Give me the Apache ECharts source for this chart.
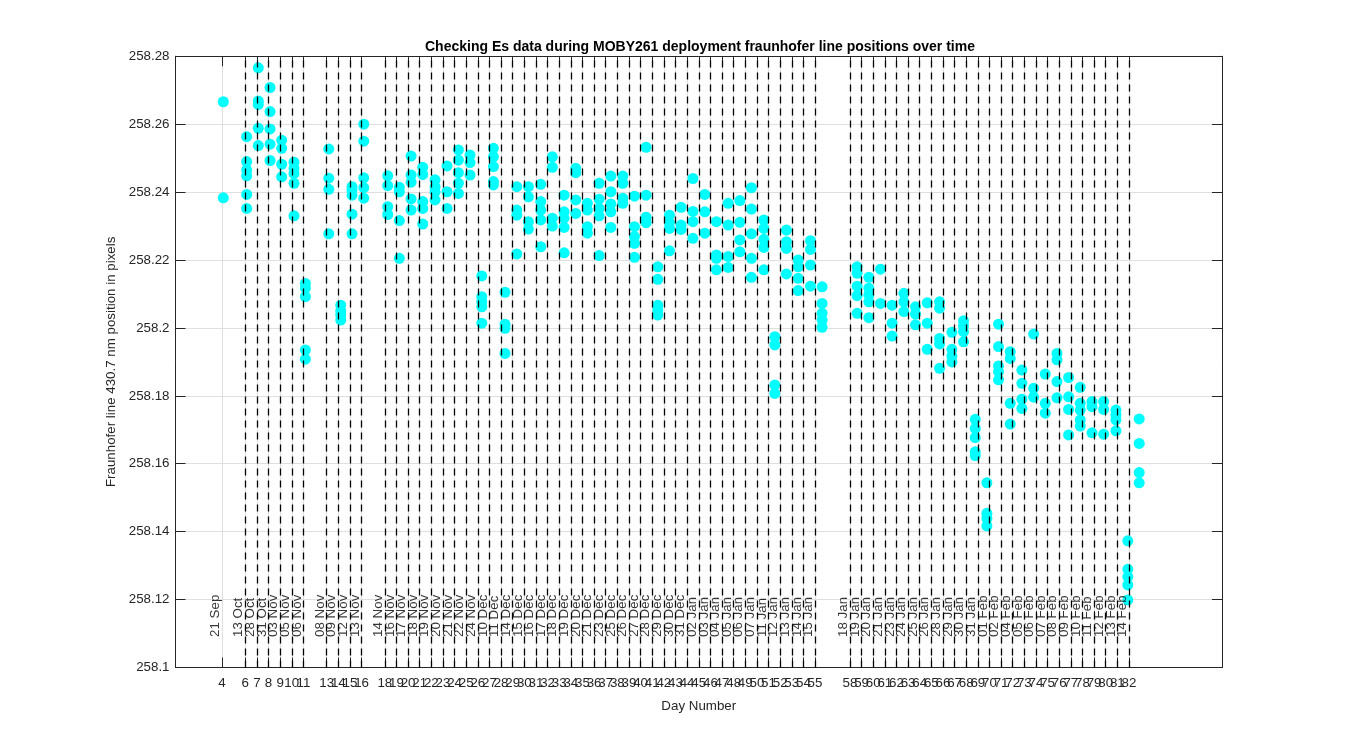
<!DOCTYPE html>
<html>
<head>
<meta charset="utf-8">
<script src="https://cdn.jsdelivr.net/npm/echarts@6/dist/echarts.min.js"></script>
<style>
html,body{margin:0;padding:0;background:#fff;}
#chart{width:1350px;height:750px;}
</style>
</head>
<body>
<div id="chart"></div>
<script>
// ---- data ----
const tickDays = [4, 6, 7, 8, 9, 10, 11, 13, 14, 15, 16,
  18, 19, 20, 21, 22, 23, 24, 25, 26, 27, 28, 29, 30, 31, 32, 33, 34, 35, 36, 37,
  38, 39, 40, 41, 42, 43, 44, 45, 46, 47, 48, 49, 50, 51, 52, 53, 54, 55,
  58, 59, 60, 61, 62, 63, 64, 65, 66, 67, 68, 69, 70, 71, 72, 73, 74, 75, 76,
  77, 78, 79, 80, 81, 82];

const dateLabels = ['21 Sep', '13 Oct', '28 Oct', '31 Oct', '03 Nov', '05 Nov', '06 Nov',
  '08 Nov', '09 Nov', '12 Nov', '13 Nov',
  '14 Nov', '16 Nov', '17 Nov', '18 Nov', '19 Nov', '20 Nov', '21 Nov', '22 Nov', '24 Nov',
  '10 Dec', '11 Dec', '14 Dec', '15 Dec', '16 Dec', '17 Dec', '18 Dec', '19 Dec', '20 Dec',
  '21 Dec', '23 Dec', '25 Dec', '26 Dec', '27 Dec', '28 Dec', '29 Dec', '30 Dec', '31 Dec',
  '02 Jan', '03 Jan', '04 Jan', '05 Jan', '06 Jan', '07 Jan', '11 Jan', '12 Jan', '13 Jan',
  '14 Jan', '15 Jan',
  '18 Jan', '19 Jan', '20 Jan', '21 Jan', '23 Jan', '24 Jan', '25 Jan', '26 Jan', '28 Jan',
  '29 Jan', '30 Jan', '31 Jan', '01 Feb', '02 Feb', '04 Feb', '05 Feb', '06 Feb', '07 Feb',
  '08 Feb', '09 Feb', '10 Feb', '11 Feb', '12 Feb', '13 Feb', '14 Feb'];

// days that carry a dashed marker line (all labelled days except the first)
const dashedDays = [6, 7, 8, 9, 10, 11, 13, 14, 15, 16,
  18, 19, 20, 21, 22, 23, 24, 25, 26, 27, 28, 29, 30, 31, 32, 33, 34, 35, 36, 37,
  38, 39, 40, 41, 42, 43, 44, 45, 46, 47, 48, 49, 50, 51, 52, 53, 54, 55,
  58, 59, 60, 61, 62, 63, 64, 65, 66, 67, 68, 69, 70, 71, 72, 73, 74, 75, 76,
  77, 78, 79, 80, 81, 82];

const colDays = [4.11, 6.12, 7.12, 8.13, 9.13, 10.19, 11.17, 13.18, 14.21, 15.18, 16.19,
  18.25, 19.25, 20.26, 21.26, 22.32, 23.35, 24.33, 25.33, 26.34, 27.34, 28.34, 29.35,
  30.35, 31.41, 32.41, 33.42, 34.42, 35.42, 36.43, 37.44, 38.47, 39.47, 40.47, 41.48,
  42.48, 43.48, 44.5, 45.52, 46.52, 47.53, 48.53, 49.53, 50.6, 51.54, 52.54, 53.55,
  54.61, 55.61, 58.62, 59.63, 60.63, 61.63, 62.64, 63.64, 64.65, 65.71, 66.77, 67.77,
  68.78, 69.78, 70.78, 71.79, 72.79, 73.8, 74.8, 75.81, 76.81, 77.81, 78.82, 79.82,
  80.88, 81.9, 82.88];

const colValues = [
  [258.2666, 258.2383],
  [258.2563, 258.2490, 258.2465, 258.2448, 258.2393, 258.2352],
  [258.2766, 258.2668, 258.2658, 258.2588, 258.2537],
  [258.2708, 258.2637, 258.2586, 258.2541, 258.2493],
  [258.2553, 258.2529, 258.2482, 258.2445],
  [258.2488, 258.2470, 258.2455, 258.2426, 258.2330],
  [258.2131, 258.2117, 258.2092, 258.1935, 258.1908],
  [258.2527, 258.2441, 258.2408, 258.2277],
  [258.2067, 258.2050, 258.2038, 258.2023],
  [258.2416, 258.2406, 258.2391, 258.2335, 258.2277],
  [258.2600, 258.2550, 258.2442, 258.2413, 258.2382],
  [258.2448, 258.2419, 258.2357, 258.2334],
  [258.2414, 258.2401, 258.2316, 258.2205],
  [258.2506, 258.2450, 258.2429, 258.2380, 258.2347],
  [258.2473, 258.2452, 258.2372, 258.2352, 258.2306],
  [258.2436, 258.2416, 258.2401, 258.2377],
  [258.2477, 258.2401, 258.2352],
  [258.2524, 258.2494, 258.2457, 258.2426, 258.2396],
  [258.2509, 258.2487, 258.2450],
  [258.2153, 258.2092, 258.2077, 258.2062, 258.2014],
  [258.2529, 258.2504, 258.2475, 258.2431, 258.2421],
  [258.2105, 258.2011, 258.1999, 258.1925],
  [258.2416, 258.2347, 258.2332, 258.2218],
  [258.2416, 258.2386, 258.2313, 258.2291],
  [258.2423, 258.2372, 258.2347, 258.2318, 258.2239],
  [258.2504, 258.2473, 258.2323, 258.2300],
  [258.2391, 258.2342, 258.2323, 258.2296, 258.2221],
  [258.2470, 258.2457, 258.2377, 258.2337],
  [258.2367, 258.2347, 258.2298, 258.2279],
  [258.2426, 258.2379, 258.2352, 258.2330, 258.2213],
  [258.2447, 258.2401, 258.2365, 258.2342, 258.2296],
  [258.2447, 258.2426, 258.2382, 258.2367],
  [258.2388, 258.2298, 258.2269, 258.2249, 258.2208],
  [258.2532, 258.2391, 258.2326, 258.2310],
  [258.2180, 258.2143, 258.2067, 258.2053, 258.2038],
  [258.2332, 258.2310, 258.2293, 258.2227],
  [258.2355, 258.2303, 258.2290],
  [258.2440, 258.2343, 258.2313, 258.2264],
  [258.2393, 258.2342, 258.2279],
  [258.2313, 258.2215, 258.2205, 258.2171],
  [258.2367, 258.2303, 258.2210, 258.2178],
  [258.2375, 258.2311, 258.2259, 258.2224],
  [258.2413, 258.2350, 258.2277, 258.2205, 258.2149],
  [258.2318, 258.2293, 258.2261, 258.2237, 258.2171],
  [258.1974, 258.1950, 258.1832, 258.1807],
  [258.2288, 258.2254, 258.2234, 258.2159],
  [258.2200, 258.2180, 258.2146, 258.2110],
  [258.2257, 258.2231, 258.2185, 258.2123],
  [258.2121, 258.2072, 258.2043, 258.2023, 258.2002],
  [258.2180, 258.2161, 258.2123, 258.2095, 258.2043],
  [258.2149, 258.2117, 258.2097, 258.2077, 258.2030],
  [258.2173, 258.2072],
  [258.2067, 258.2014, 258.1976],
  [258.2102, 258.2077, 258.2048],
  [258.2062, 258.2041, 258.2009],
  [258.2074, 258.2014, 258.1937],
  [258.2077, 258.2058, 258.1969, 258.1953, 258.1881],
  [258.1987, 258.1937, 258.1917, 258.1900],
  [258.2021, 258.2006, 258.1989, 258.1959],
  [258.1731, 258.1704, 258.1677, 258.1635, 258.1624],
  [258.1544, 258.1454, 258.1439, 258.1417],
  [258.2011, 258.1945, 258.1888, 258.1871, 258.1847],
  [258.1930, 258.1910, 258.1778, 258.1717],
  [258.1876, 258.1837, 258.1790, 258.1763],
  [258.1982, 258.1822, 258.1796],
  [258.1864, 258.1778, 258.1749],
  [258.1925, 258.1906, 258.1842, 258.1794],
  [258.1854, 258.1797, 258.1760, 258.1685],
  [258.1825, 258.1778, 258.1758, 258.1729, 258.1711],
  [258.1783, 258.1768, 258.1691],
  [258.1783, 258.1760, 258.1687],
  [258.1758, 258.1744, 258.1729, 258.1697],
  [258.1373, 258.1289, 258.1267, 258.1243, 258.1199],
  [258.1732, 258.1660, 258.1574, 258.1544]
];

const labelY = 258.109; // vertical anchor of the date texts (data units)

// ---- build the chart ----
const FONT = "'Liberation Sans', Arial, Helvetica, sans-serif";
const TXT = '#262626';

const points = [];
colDays.forEach((d, i) => colValues[i].forEach(v => points.push([d, v])));

const labelData = tickDays.map((d, i) => ({ value: [d, labelY], name: dateLabels[i] }));

// tick labels are split over two overlaid axes so ECharts keeps every one
// (the original draws all of them, even where they collide)
const tickLabelsA = tickDays.filter((d, i) => i % 2 === 0);
const tickLabelsB = tickDays.filter((d, i) => i % 2 === 1);

const labelStyle = { fontFamily: FONT, fontSize: 13.33, color: TXT };

const chart = echarts.init(document.getElementById('chart'), null, { renderer: 'canvas' });

const option = {
  animation: false,
  backgroundColor: '#ffffff',
  title: {
    text: 'Checking Es data during MOBY261 deployment fraunhofer line positions over time',
    left: 695, top: 35, textAlign: 'center',
    textStyle: { fontFamily: FONT, fontSize: 14, fontWeight: 'bold', color: '#000' }
  },
  grid: { left: 175.5, right: 128, top: 56.25, bottom: 82.5, containLabel: false },
  xAxis: [
    {
      type: 'value', min: 0, max: 90, position: 'bottom',
      name: 'Day Number', nameLocation: 'middle', nameGap: 32,
      nameTextStyle: { fontFamily: FONT, fontSize: 13.33, color: TXT },
      axisLine: { show: true, onZero: false, lineStyle: { color: TXT, width: 1 } },
      axisTick: { show: true, inside: true, length: 10, customValues: tickDays, lineStyle: { color: TXT, width: 1 } },
      axisLabel: Object.assign({ show: true, customValues: tickLabelsA, hideOverlap: false, margin: 9,
        showMinLabel: true, showMaxLabel: true, formatter: v => String(v) }, labelStyle),
      splitLine: { show: true, lineStyle: { color: '#dfdfdf', width: 1 } }
    },
    {
      type: 'value', min: 0, max: 90, position: 'top',
      axisLine: { show: true, onZero: false, lineStyle: { color: TXT, width: 1 } },
      axisTick: { show: true, inside: true, length: 10, customValues: tickDays, lineStyle: { color: TXT, width: 1 } },
      axisLabel: { show: false },
      splitLine: { show: false }
    },
    {
      type: 'value', min: 0, max: 90, position: 'bottom',
      axisLine: { show: false, onZero: false },
      axisTick: { show: false },
      axisLabel: Object.assign({ show: true, customValues: tickLabelsB, hideOverlap: false, margin: 9,
        showMinLabel: true, showMaxLabel: true, formatter: v => String(v) }, labelStyle),
      splitLine: { show: false }
    }
  ],
  yAxis: [
    {
      type: 'value', min: 258.1, max: 258.28, interval: 0.02, position: 'left',
      name: 'Fraunhofer line 430.7 nm position in pixels', nameLocation: 'middle', nameGap: 52,
      nameTextStyle: { fontFamily: FONT, fontSize: 13.33, color: TXT },
      axisLine: { show: true, onZero: false, lineStyle: { color: TXT, width: 1 } },
      axisTick: { show: true, inside: true, length: 10, lineStyle: { color: TXT, width: 1 } },
      axisLabel: Object.assign({ show: true, margin: 6, formatter: v => String(parseFloat(v.toFixed(2))) }, labelStyle),
      splitLine: { show: true, lineStyle: { color: '#dfdfdf', width: 1 } }
    },
    {
      type: 'value', min: 258.1, max: 258.28, interval: 0.02, position: 'right',
      axisLine: { show: true, onZero: false, lineStyle: { color: TXT, width: 1 } },
      axisTick: { show: true, inside: true, length: 10, lineStyle: { color: TXT, width: 1 } },
      axisLabel: { show: false },
      splitLine: { show: false }
    }
  ],
  series: [
    {
      type: 'scatter', xAxisIndex: 0, yAxisIndex: 0, z: 2,
      data: points, symbol: 'circle', symbolSize: 11,
      itemStyle: { color: '#00ffff', opacity: 1 },
      silent: true
    },
    {
      type: 'scatter', xAxisIndex: 0, yAxisIndex: 0, z: 4,
      data: labelData, symbolSize: 0.1,
      itemStyle: { color: 'rgba(0,0,0,0)' },
      silent: true,
      label: {
        show: true, position: 'inside', rotate: 90, align: 'left', verticalAlign: 'bottom',
        formatter: p => p.name, fontFamily: FONT, fontSize: 13.33, color: '#000'
      },
      markLine: {
        silent: true, symbol: ['none', 'none'], z: 5,
        label: { show: false },
        emphasis: { disabled: true },
        lineStyle: { type: [7, 5], color: '#000', width: 1.3 },
        data: dashedDays.map(d => ({ xAxis: d }))
      }
    }
  ]
};
chart.setOption(option);
</script>
</body>
</html>
